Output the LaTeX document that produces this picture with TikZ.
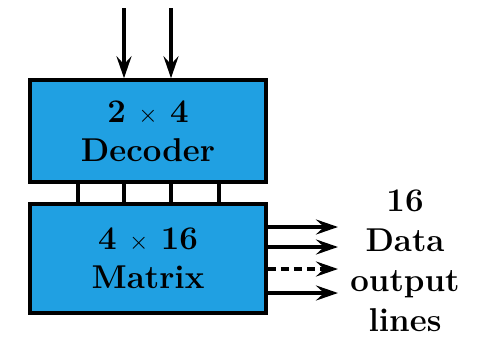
\documentclass[tikz,border=0pt]{standalone}
\usepackage{fontspec}
\usetikzlibrary{arrows.meta}
\definecolor{boxblue}{RGB}{32,160,226}
\begin{document}
\begin{tikzpicture}[x=1pt,y=-1pt,
  blk/.style={draw=black,line width=3.5pt,fill=boxblue,minimum width=236pt,inner sep=0pt,align=center,font=\fontsize{33}{39}\selectfont\bfseries},
  wire/.style={line width=3.5pt},
  dashline/.style={dash pattern=on 8pt off 5pt},
  arr/.style={line width=3.5pt,-{Stealth[length=22pt,width=15pt,inset=8pt]}},
  lbl/.style={align=center,font=\fontsize{33}{40}\selectfont\bfseries,inner sep=0pt}]
\useasboundingbox (0,0) rectangle (479,341);
\node[blk,minimum height=102pt] (dec) at (148,131) {2 $\times$ 4\\Decoder};
\node[blk,minimum height=109pt] (mat) at (148,258.5) {4 $\times$ 16\\Matrix};
\coordinate (i1) at (124,8);
\coordinate (i2) at (171,8);
\draw[arr] (i1) -- (i1 |- dec.north);
\draw[arr] (i2) -- (i2 |- dec.north);
\foreach \x in {78,124,171,219}{
  \draw[wire] (\x,0 |- dec.south) -- (\x,0 |- mat.north);
}
\foreach \y/\s in {227/solid,247/solid,269/dashline,293/solid}{
  \coordinate (o\y) at (338,\y);
  \draw[arr,\s] (mat.east |- o\y) -- (o\y);
}
\node[lbl] (out) at (405,261) {16\\Data\\output\\lines};
\end{tikzpicture}
\end{document}
